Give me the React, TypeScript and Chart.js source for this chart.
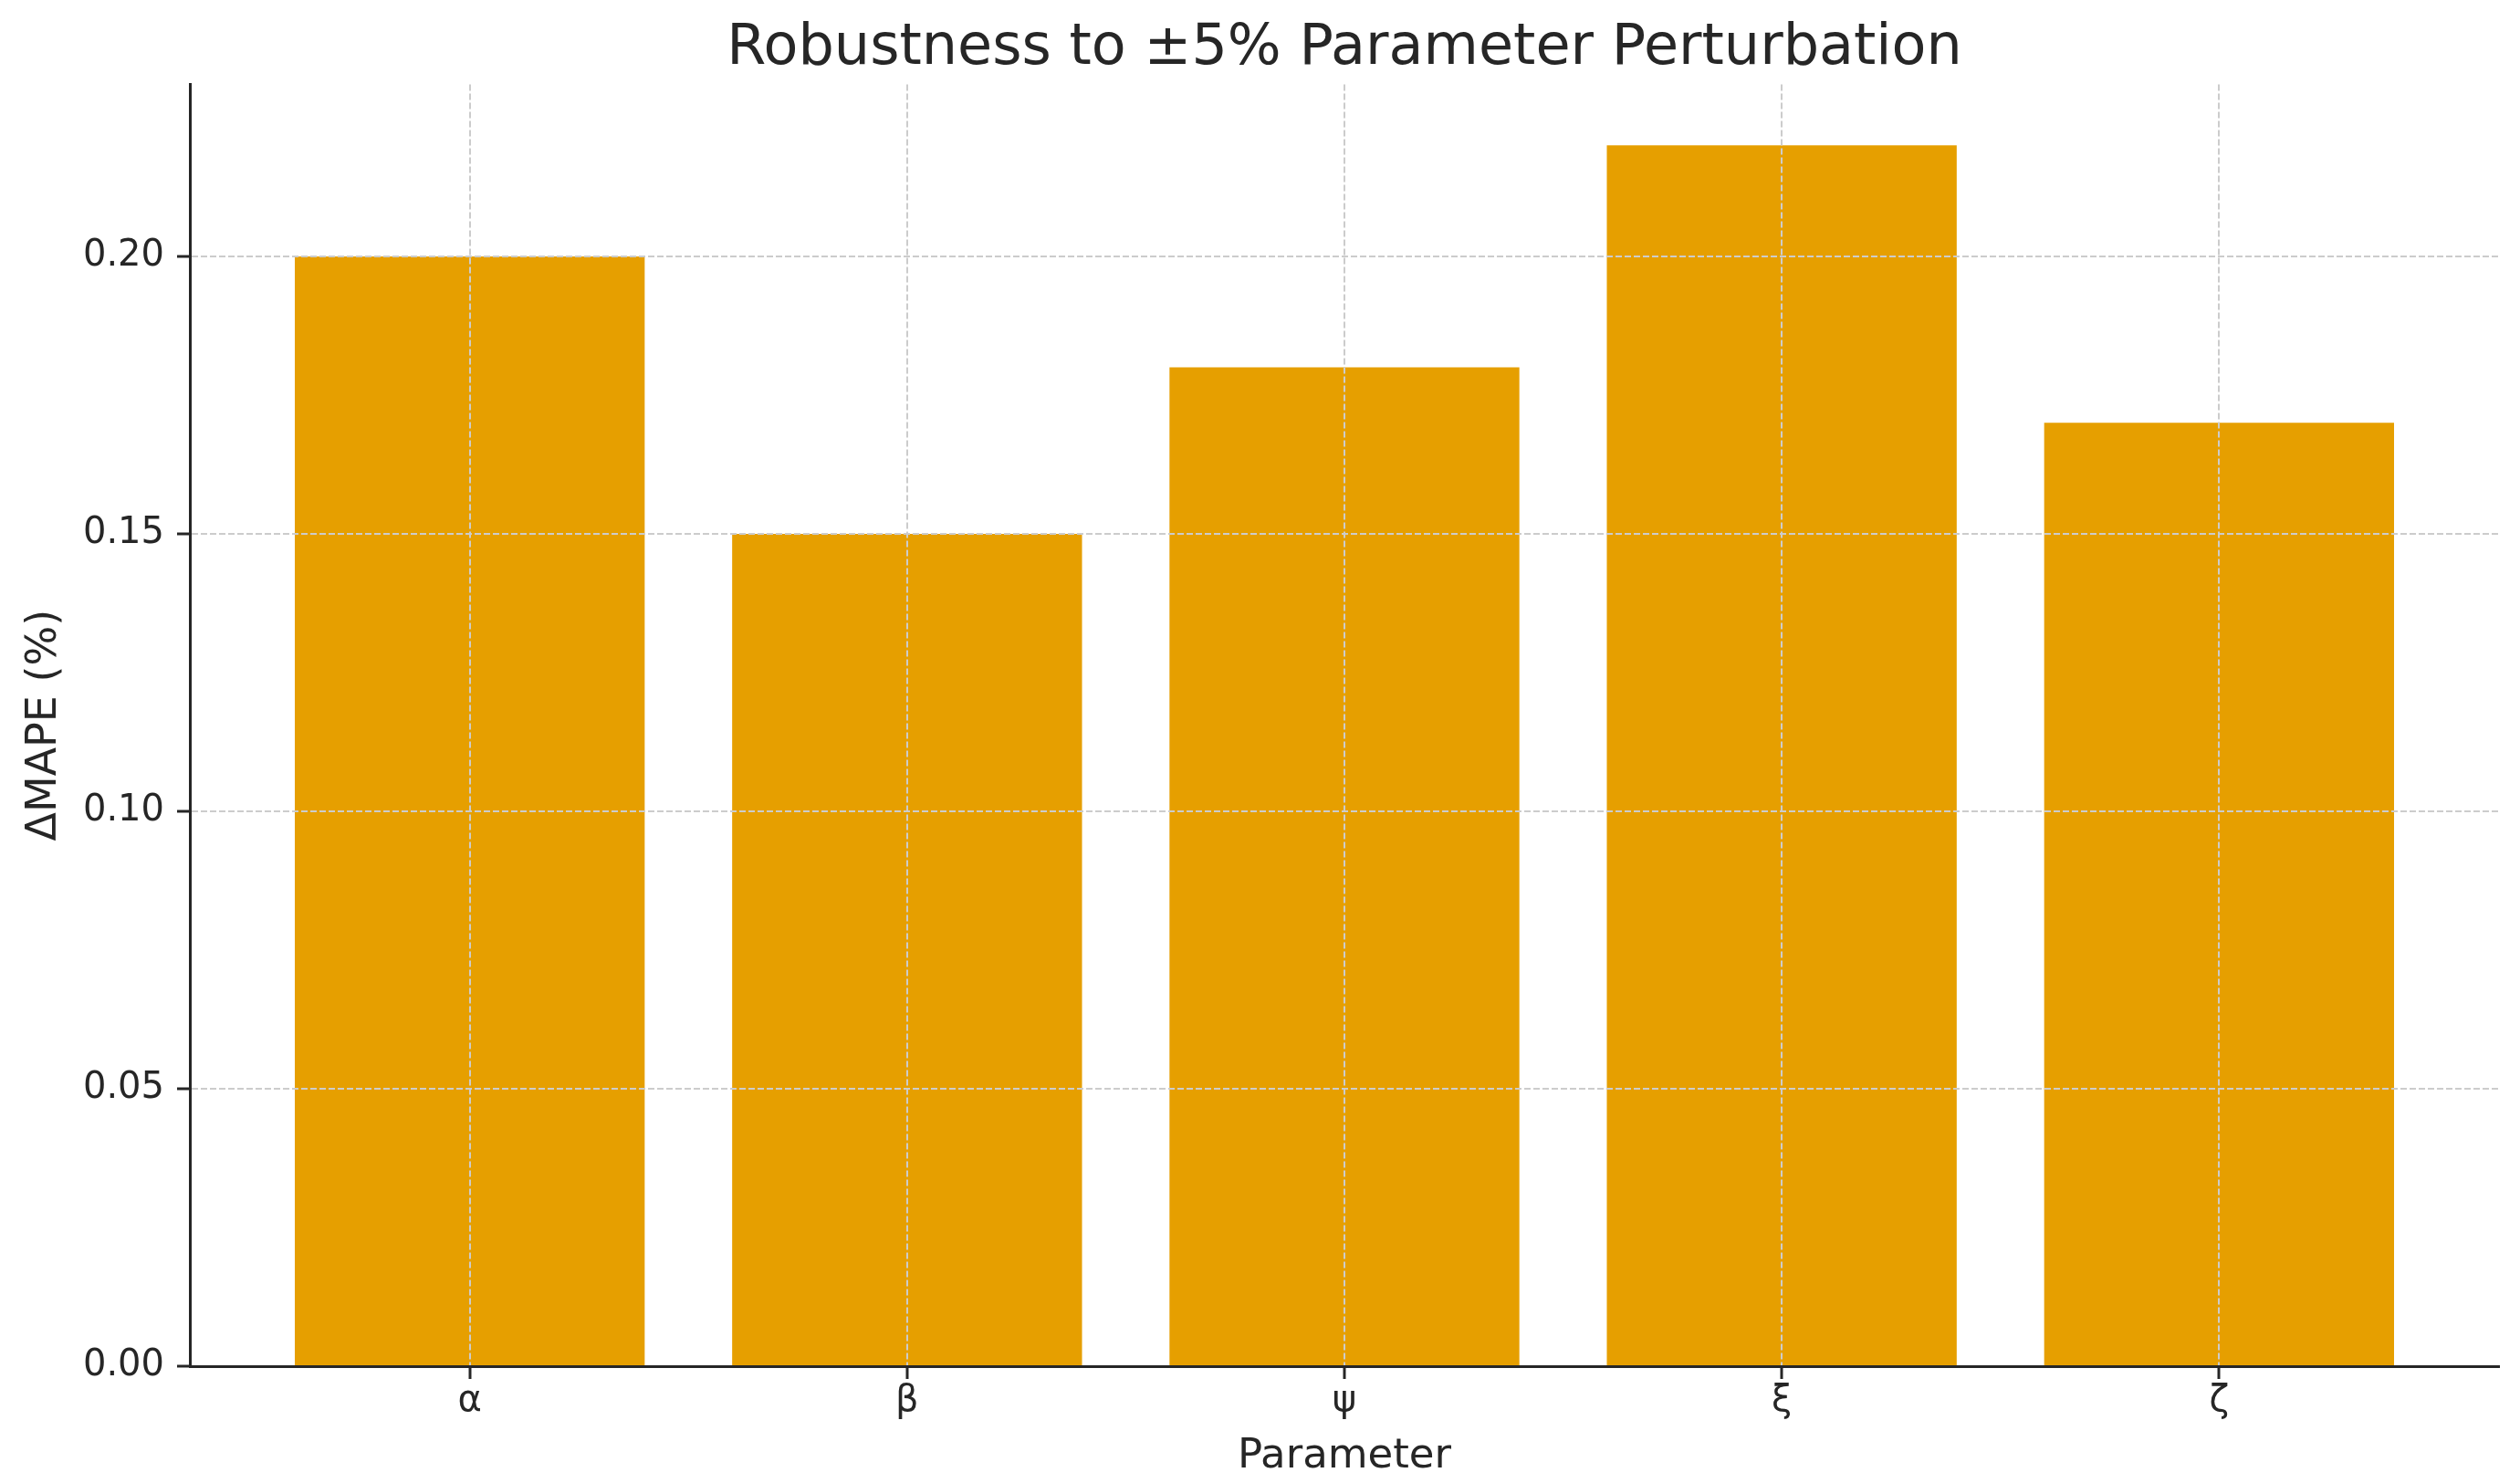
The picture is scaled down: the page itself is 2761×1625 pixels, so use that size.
import React, { useEffect, useRef } from "react";
import { Chart, registerables } from "chart.js";

Chart.register(...registerables);

const categories: string[] = ["α", "β", "ψ", "ξ", "ζ"];
const deltaMape: number[] = [0.2, 0.15, 0.18, 0.22, 0.17];
const yTicks: number[] = [0.0, 0.05, 0.1, 0.15, 0.2];

const TITLE = "Robustness to ±5% Parameter Perturbation";
const X_TITLE = "Parameter";
const Y_TITLE = "ΔMAPE (%)";

const W = 2761;
const H = 1625;
const FONT = "'DejaVu Sans', 'Liberation Sans', sans-serif";

export default function App() {
  const ref = useRef<HTMLCanvasElement | null>(null);

  useEffect(() => {
    document.body.style.margin = "0";
    const canvas = ref.current;
    if (!canvas) return;
    const chart = new Chart(canvas, {
      type: "bar",
      data: {
        datasets: [
          {
            label: Y_TITLE,
            data: deltaMape.map((v, i) => ({ x: i, y: v })),
            backgroundColor: "#E69F00",
            borderWidth: 0,
            categoryPercentage: 1,
            barPercentage: 0.8,
          },
        ],
      },
      options: {
        animation: false,
        responsive: false,
        devicePixelRatio: 1,
        layout: { padding: { left: 0, right: 23, top: 0, bottom: 0 } },
        plugins: {
          legend: { display: false },
          tooltip: { enabled: false },
          title: {
            display: true,
            fullSize: false,
            text: TITLE,
            color: "#262626",
            font: { family: FONT, size: 62, weight: "normal" },
            padding: { top: 17, bottom: 1 },
          },
        },
        scales: {
          x: {
            type: "linear",
            min: -0.64,
            max: 4.64,
            offset: false,
            afterBuildTicks: (scale: any) => {
              scale.ticks = categories.map((_, i) => ({ value: i }));
            },
            afterFit: (scale: any) => {
              scale.height = 128;
            },
            ticks: {
              autoSkip: false,
              maxRotation: 0,
              color: "#262626",
              font: { family: FONT, size: 40 },
              padding: 1,
              callback: (value: any) => categories[Math.round(Number(value))] ?? "",
            },
            grid: {
              offset: false,
              color: "#cccccc",
              lineWidth: 2,
              drawTicks: true,
              tickLength: 14,
              tickWidth: 3,
              tickColor: "#262626",
              z: 1,
            },
            border: { display: true, color: "#262626", width: 3, dash: [7, 3], z: 2 },
            title: {
              display: true,
              text: X_TITLE,
              color: "#262626",
              font: { family: FONT, size: 45 },
              padding: { top: 0, bottom: 2 },
            },
          },
          y: {
            type: "linear",
            min: 0,
            max: 0.231,
            afterBuildTicks: (scale: any) => {
              scale.ticks = yTicks.map((v) => ({ value: v }));
            },
            afterFit: (scale: any) => {
              scale.width = 208;
            },
            ticks: {
              color: "#262626",
              font: { family: FONT, size: 40 },
              padding: 14,
              callback: (value: any) => Number(value).toFixed(2),
            },
            grid: {
              color: "#cccccc",
              lineWidth: 2,
              drawTicks: true,
              tickLength: 14,
              tickWidth: 3,
              tickColor: "#262626",
              z: 1,
            },
            border: { display: true, color: "#262626", width: 3, dash: [7, 3], z: 2 },
            title: {
              display: true,
              text: Y_TITLE,
              color: "#262626",
              font: { family: FONT, size: 46 },
              padding: { top: 21, bottom: 0 },
            },
          },
        },
      } as any,
    });
    return () => chart.destroy();
  }, []);

  return (
    <div style={{ position: "fixed", left: 0, top: 0, width: W, height: H, background: "#fff" }}>
      <canvas ref={ref} width={W} height={H} style={{ display: "block", width: W, height: H }} />
    </div>
  );
}
